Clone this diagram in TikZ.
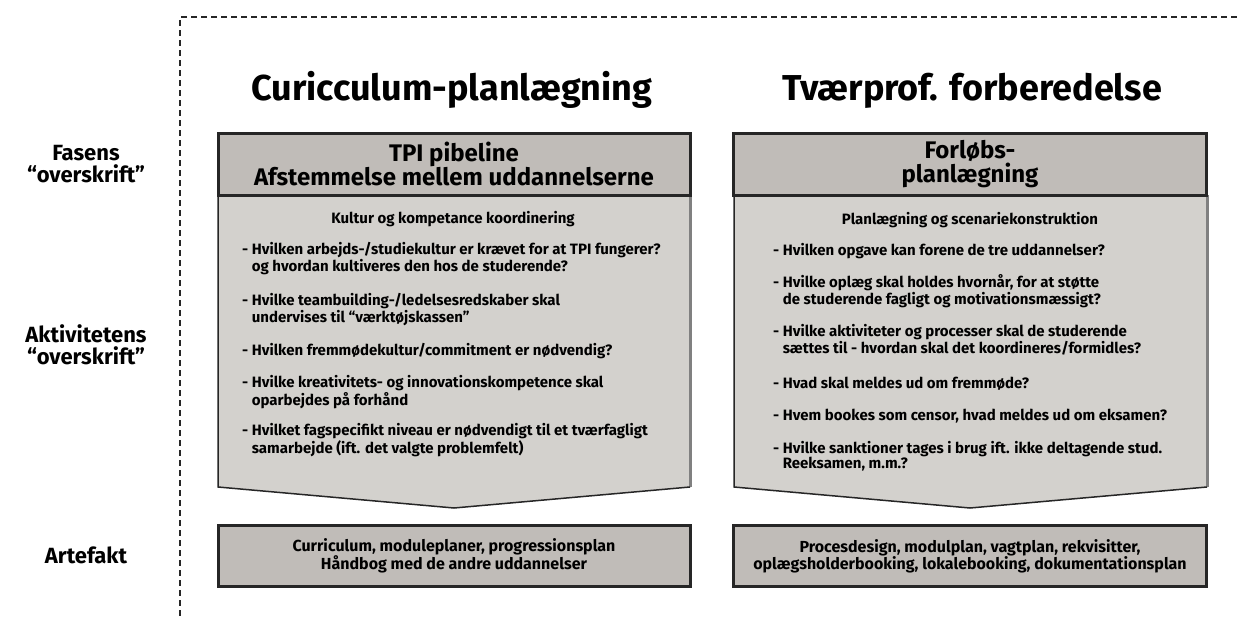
\documentclass[tikz,border=0pt]{standalone}
\usepackage{fontspec}
\setmainfont{Fira Sans}
\definecolor{hovedgraa}{HTML}{C0BCB8}
\definecolor{kropgraa}{HTML}{D3D1CD}
\definecolor{kant}{HTML}{262626}
\begin{document}
\begin{tikzpicture}[x=1pt,y=-1pt,
  fasetitel/.style={font=\fontsize{36}{40}\selectfont\bfseries,anchor=base},
  etiket/.style={font=\fontsize{22}{22}\selectfont\bfseries,align=center},
  hovedtekst/.style={font=\fontsize{24}{24}\selectfont\bfseries,align=center},
  punkt/.style={font=\bfseries\fontsize{15}{15}\selectfont,anchor=base west,align=left,inner sep=0pt},
  punktoverskrift/.style={font=\bfseries\fontsize{15}{15}\selectfont,anchor=base,inner sep=0pt},
  artefakttekst/.style={font=\bfseries\fontsize{16}{17}\selectfont,align=center},
  hovedboks/.style={fill=hovedgraa,draw=kant,line width=3pt}]
  \useasboundingbox (0,0) rectangle (1237,616);
  % ramme om faserne
  \draw[kant,line width=2pt,dash pattern=on 6pt off 4pt] (1237,17) -- (180,17) -- (180,616);

  % venstre kolonne: etiketter
  \node[etiket] (fasens) at (86,164) {Fasens\\“overskrift”};
  \node[etiket] (aktivitet) at (86,345) {Aktivitetens\\“overskrift”};
  \node[etiket] (artefakt) at (86,555) {Artefakt};

  % fase 1
  \node[fasetitel] (titelA) at (452,100) {Curicculum-planlægning};
  \fill[kropgraa] (218,195) -- (690,195) -- (690,487) -- (454,508) -- (218,487) -- cycle;
  \draw[gray,line width=3pt] (690,195) -- (690,487);
  \draw[kant,line width=1.5pt] (218,195) -- (218,487) -- (454,508) -- (690,487);
  \node[hovedboks,minimum width=472pt,minimum height=62pt] (hovedA) at (454,164) {};
  \node[hovedtekst] at (hovedA) {TPI pibeline\\Afstemmelse mellem uddannelserne};
  \node[punktoverskrift] (emneA) at (453,223) {Kultur og kompetance koordinering};
  % to-linjers punkter: y er sidste linjes grundlinje
  \node[punkt] (a1) at (242,271) {- Hvilken arbejds-/studiekultur er krævet for at TPI fungerer?\\\hphantom{- }og hvordan kultiveres den hos de studerende?};
  \node[punkt] (a2) at (242,322) {- Hvilke teambuilding-/ledelsesredskaber skal\\\hphantom{- }undervises til “værktøjskassen”};
  \node[punkt] (a3) at (242,355) {- Hvilken fremmødekultur/commitment er nødvendig?};
  \node[punkt] (a4) at (242,405) {- Hvilke kreativitets- og innovationskompetence skal\\\hphantom{- }oparbejdes på forhånd};
  \node[punkt] (a5) at (242,453) {- Hvilket fagspecifikt niveau er nødvendigt til et tværfagligt\\\hphantom{- }samarbejde (ift. det valgte problemfelt)};
  \node[hovedboks,minimum width=472pt,minimum height=61pt] (artA) at (454,556) {};
  \node[artefakttekst] at (artA) {Curriculum, moduleplaner, progressionsplan\\Håndbog med de andre uddannelser};

  % fase 2
  \node[fasetitel] (titelB) at (972,100) {Tværprof. forberedelse};
  \fill[kropgraa] (734,195) -- (1207,195) -- (1207,487) -- (970,508) -- (734,487) -- cycle;
  \draw[gray,line width=3pt] (1207,195) -- (1207,487);
  \draw[kant,line width=1.5pt] (734,195) -- (734,487) -- (970,508) -- (1207,487);
  \node[hovedboks,minimum width=473pt,minimum height=62pt] (hovedB) at (970,164) {};
  \node[hovedtekst] at (hovedB) {Forløbs-\\planlægning};
  \node[punktoverskrift] (emneB) at (970,224) {Planlægning og scenariekonstruktion};
  \node[punkt] (b1) at (773,255) {- Hvilken opgave kan forene de tre uddannelser?};
  \node[punkt] (b2) at (773,304) {- Hvilke oplæg skal holdes hvornår, for at støtte\\\hphantom{- }de studerende fagligt og motivationsmæssigt?};
  \node[punkt] (b3) at (773,353) {- Hvilke aktiviteter og processer skal de studerende\\\hphantom{- }sættes til - hvordan skal det koordineres/formidles?};
  \node[punkt] (b4) at (773,388) {- Hvad skal meldes ud om fremmøde?};
  \node[punkt] (b5) at (773,420) {- Hvem bookes som censor, hvad meldes ud om eksamen?};
  \node[punkt] (b6) at (773,468) {- Hvilke sanktioner tages i brug ift. ikke deltagende stud.\\\hphantom{- }Reeksamen, m.m.?};
  \node[hovedboks,minimum width=473pt,minimum height=61pt] (artB) at (970,556) {};
  \node[artefakttekst] at (artB) {Procesdesign, modulplan, vagtplan, rekvisitter,\\oplægsholderbooking, lokalebooking, dokumentationsplan};
\end{tikzpicture}
\end{document}
